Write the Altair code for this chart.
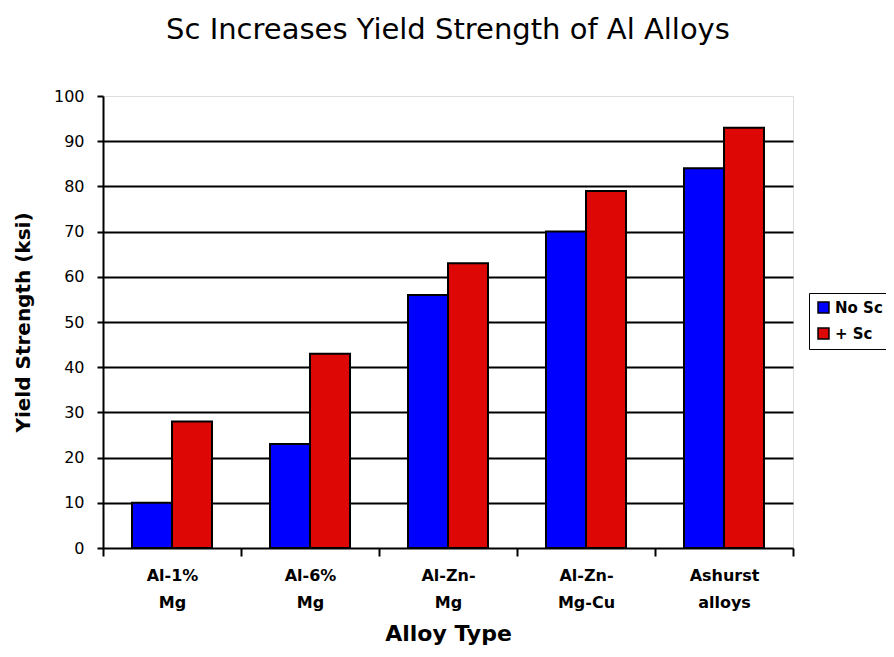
import altair as alt
import pandas as pd

alloys = ["Al-1%|Mg", "Al-6%|Mg", "Al-Zn-|Mg", "Al-Zn-|Mg-Cu", "Ashurst|alloys"]
no_sc = [10, 23, 56, 70, 84]
plus_sc = [28, 43, 63, 79, 93]
series = ["No Sc", "+ Sc"]
colors = ["#0000FF", "#DD0806"]

rows = []
for a, v1, v2 in zip(alloys, no_sc, plus_sc):
    rows.append({"alloy": a, "series": series[0], "value": v1})
    rows.append({"alloy": a, "series": series[1], "value": v2})
df = pd.DataFrame(rows)

FONT = "DejaVu Sans"

chart = alt.Chart(df).mark_bar(stroke="black", strokeWidth=2).encode(
    x=alt.X("alloy:N", sort=alloys,
            scale=alt.Scale(paddingInner=0, paddingOuter=0),
            axis=alt.Axis(title="Alloy Type", labelAngle=0,
                          labelExpr="split(datum.label, '|')",
                          labelFont=FONT, labelFontSize=16, labelFontWeight="bold",
                          labelColor="black", labelLineHeight=27, labelPadding=11,
                          titleFont=FONT, titleFontSize=22, titleFontWeight="bold",
                          titleColor="black", titlePadding=13,
                          domainColor="black", domainWidth=2,
                          tickColor="black", tickWidth=2, tickSize=8,
                          tickBand="extent", grid=False)),
    xOffset=alt.XOffset("series:N", sort=series,
                        scale=alt.Scale(paddingInner=0, paddingOuter=0.725)),
    y=alt.Y("value:Q",
            scale=alt.Scale(domain=[0, 100], nice=False),
            axis=alt.Axis(title="Yield Strength (ksi)",
                          values=list(range(0, 101, 10)),
                          labelFont=FONT, labelFontSize=16, labelColor="black",
                          labelPadding=13,
                          titleFont=FONT, titleFontSize=20, titleFontWeight="bold",
                          titleColor="black", titlePadding=20,
                          domainColor="black", domainWidth=2,
                          tickColor="black", tickWidth=2, tickSize=6,
                          gridColor="black", gridWidth=2,
                          gridOpacity={"condition": {"test": "datum.value >= 100 || datum.value <= 0", "value": 0}, "value": 1})),
    color=alt.Color("series:N", sort=series,
                    scale=alt.Scale(domain=series, range=colors),
                    legend=alt.Legend(title=None, orient="none",
                                      legendX=706, legendY=197,
                                      symbolType="square", symbolSize=120,
                                      symbolStrokeColor="black", symbolStrokeWidth=1.5,
                                      labelFont=FONT, labelFontSize=15,
                                      labelFontWeight="bold", labelColor="black",
                                      rowPadding=9, padding=7,
                                      strokeColor="black", fillColor="white")),
).properties(
    width=690,
    height=452,
    title=alt.TitleParams("Sc Increases Yield Strength of Al Alloys",
                          font=FONT, fontSize=29, fontWeight="normal",
                          color="black", anchor="middle", offset=43),
    autosize=alt.AutoSizeParams(type="none"),
    padding={"left": 95, "top": 88, "right": 93, "bottom": 101},
).configure_view(
    stroke="#888888", strokeDash=[1, 1], strokeWidth=2
).configure(background="white")

chart.save("out.html", embed_options={"renderer": "svg", "actions": False})
